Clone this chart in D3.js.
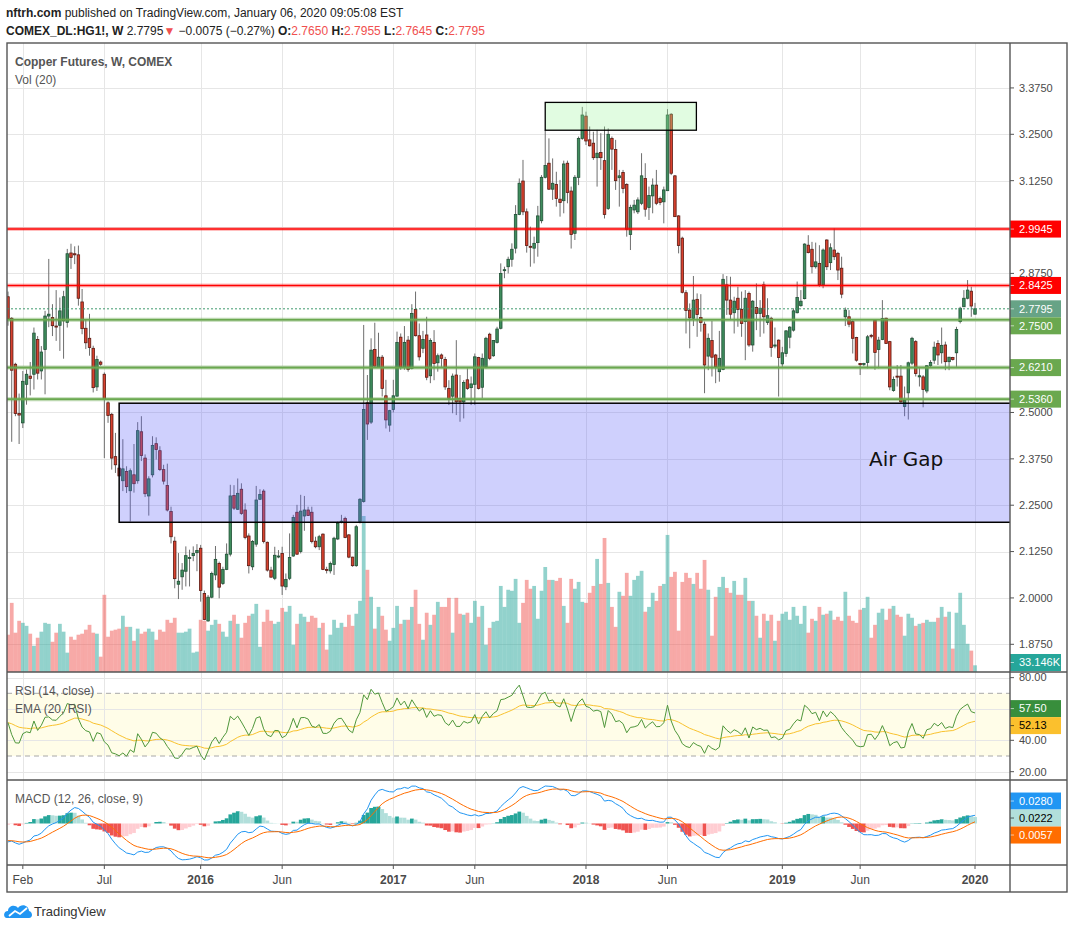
<!DOCTYPE html>
<html>
<head>
<meta charset="utf-8">
<script src="https://cdn.jsdelivr.net/npm/d3@7"></script>
<style>
  body { margin: 0; background: #fff; }
  text { font-family: "Liberation Sans", Arial, sans-serif; }
</style>
</head>
<body>
<svg id="chart" width="1074" height="929"></svg>
<script>
// weekly bars, first bar is the week of 2015-01-05
var startDate = "2015-01-05";

var opens = [
  2.812,2.754,2.630,2.497,2.472,2.576,2.598,2.603,2.697,2.612,
  2.670,2.760,2.756,2.733,2.735,2.747,2.743,2.930,2.928,2.925,
  2.798,2.727,2.700,2.673,2.569,2.636,2.603,2.526,2.495,2.381,
  2.350,2.316,2.341,2.289,2.332,2.316,2.448,2.377,2.275,2.332,
  2.416,2.397,2.346,2.303,2.233,2.153,2.037,2.057,2.072,2.108,
  2.114,2.122,2.134,2.012,1.938,2.002,2.062,2.093,2.039,2.077,
  2.118,2.276,2.239,2.293,2.237,2.167,2.084,2.145,2.266,2.288,
  2.150,2.075,2.053,2.112,2.120,2.030,2.053,2.113,2.231,2.125,
  2.221,2.237,2.231,2.153,2.138,2.172,2.077,2.073,2.090,2.159,
  2.204,2.214,2.170,2.110,2.087,2.206,2.260,2.526,2.474,2.670,
  2.622,2.649,2.545,2.466,2.508,2.544,2.703,2.622,2.695,2.619,
  2.778,2.707,2.673,2.709,2.599,2.689,2.634,2.655,2.643,2.565,
  2.544,2.601,2.538,2.529,2.588,2.567,2.576,2.648,2.568,2.623,
  2.711,2.653,2.689,2.727,2.883,2.893,2.913,2.943,3.034,3.124,
  3.041,2.948,2.943,2.958,3.017,3.134,3.172,3.102,3.115,3.075,
  3.071,3.172,3.097,2.983,3.134,3.239,3.299,3.235,3.226,3.187,
  3.201,3.179,3.050,3.239,3.209,3.133,3.147,3.115,2.980,3.046,
  3.041,3.064,3.131,3.053,3.084,3.113,3.077,3.068,3.098,3.304,
  3.138,3.030,2.970,2.823,2.776,2.754,2.805,2.756,2.738,2.652,
  2.694,2.655,2.610,2.616,2.844,2.803,2.769,2.808,2.778,2.745,
  2.821,2.682,2.783,2.767,2.844,2.743,2.754,2.679,2.695,2.631,
  2.659,2.703,2.722,2.769,2.788,2.807,2.951,2.940,2.893,2.902,
  2.844,2.965,2.904,2.938,2.929,2.889,2.758,2.758,2.745,2.702,
  2.632,2.630,2.635,2.708,2.749,2.670,2.697,2.754,2.691,2.559,
  2.598,2.598,2.516,2.553,2.633,2.691,2.596,2.596,2.558,2.626,
  2.641,2.686,2.661,2.682,2.637,2.648,2.661,2.745,2.785,2.808,
  2.827,2.765
];
var highs = [
  2.826,2.757,2.634,2.551,2.612,2.616,2.636,2.729,2.706,2.679,
  2.774,2.914,2.792,2.830,2.810,2.828,2.941,2.955,2.948,2.950,
  2.833,2.750,2.766,2.680,2.653,2.640,2.608,2.530,2.499,2.445,
  2.360,2.428,2.355,2.349,2.415,2.474,2.490,2.387,2.328,2.436,
  2.433,2.409,2.359,2.362,2.246,2.165,2.121,2.094,2.139,2.130,
  2.139,2.145,2.143,2.020,2.008,2.071,2.140,2.098,2.084,2.147,
  2.305,2.304,2.322,2.309,2.255,2.174,2.156,2.302,2.293,2.293,
  2.152,2.084,2.138,2.129,2.138,2.066,2.174,2.224,2.251,2.278,
  2.275,2.246,2.246,2.165,2.170,2.174,2.084,2.098,2.165,2.206,
  2.224,2.219,2.172,2.111,2.197,2.269,2.736,2.601,2.700,2.742,
  2.715,2.655,2.588,2.507,2.588,2.718,2.713,2.733,2.706,2.792,
  2.826,2.740,2.720,2.758,2.700,2.722,2.659,2.659,2.650,2.587,
  2.605,2.695,2.601,2.587,2.619,2.597,2.659,2.650,2.659,2.704,
  2.715,2.695,2.731,2.902,2.893,2.920,2.956,3.059,3.131,3.181,
  3.050,3.001,2.974,3.057,3.140,3.262,3.239,3.185,3.149,3.127,
  3.179,3.179,3.109,3.140,3.244,3.324,3.311,3.271,3.257,3.262,
  3.253,3.271,3.266,3.244,3.235,3.154,3.154,3.118,3.060,3.073,
  3.080,3.199,3.172,3.109,3.131,3.154,3.082,3.109,3.318,3.307,
  3.140,3.032,2.974,2.830,2.794,2.868,2.821,2.819,2.745,2.713,
  2.747,2.658,2.720,2.873,2.868,2.866,2.812,2.839,2.826,2.830,
  2.826,2.803,2.848,2.803,2.853,2.808,2.758,2.729,2.697,2.677,
  2.722,2.733,2.781,2.853,2.830,2.956,2.978,2.960,2.958,2.951,
  2.942,2.967,2.956,2.996,2.933,2.920,2.783,2.776,2.749,2.704,
  2.633,2.634,2.709,2.712,2.752,2.704,2.803,2.756,2.693,2.597,
  2.628,2.628,2.570,2.637,2.704,2.695,2.623,2.601,2.628,2.641,
  2.691,2.695,2.729,2.691,2.650,2.650,2.731,2.785,2.830,2.857,
  2.839,2.7955
];
var lows = [
  2.734,2.421,2.490,2.415,2.458,2.521,2.546,2.562,2.589,2.589,
  2.549,2.730,2.706,2.693,2.666,2.645,2.729,2.887,2.900,2.788,
  2.711,2.671,2.653,2.554,2.558,2.626,2.377,2.472,2.346,2.337,
  2.328,2.288,2.283,2.206,2.284,2.308,2.369,2.272,2.222,2.325,
  2.373,2.342,2.306,2.233,2.147,2.026,1.997,2.022,2.031,2.031,
  2.099,2.072,1.990,1.940,1.936,1.999,2.048,1.999,2.035,2.075,
  2.112,2.237,2.237,2.224,2.158,2.066,2.075,2.138,2.264,2.147,
  2.071,2.055,2.048,2.107,2.008,2.021,2.048,2.111,2.116,2.120,
  2.181,2.221,2.147,2.134,2.129,2.075,2.066,2.066,2.062,2.156,
  2.201,2.161,2.107,2.084,2.084,2.201,2.257,2.426,2.469,2.624,
  2.622,2.543,2.457,2.448,2.500,2.543,2.615,2.615,2.610,2.616,
  2.705,2.640,2.660,2.587,2.579,2.587,2.610,2.623,2.561,2.520,
  2.498,2.493,2.475,2.484,2.561,2.520,2.520,2.562,2.538,2.619,
  2.641,2.650,2.686,2.724,2.862,2.875,2.893,2.929,3.032,3.032,
  2.931,2.893,2.902,2.920,3.010,3.131,3.100,3.073,3.055,3.028,
  3.037,3.064,2.942,2.965,3.113,3.235,3.221,3.217,3.181,3.109,
  3.154,3.023,3.046,3.154,3.100,3.055,3.091,2.974,2.938,3.037,
  3.035,3.059,3.028,3.019,3.037,3.059,3.059,3.010,3.098,3.140,
  3.028,2.929,2.821,2.713,2.673,2.733,2.704,2.718,2.552,2.614,
  2.597,2.579,2.583,2.614,2.763,2.749,2.713,2.731,2.704,2.641,
  2.677,2.664,2.722,2.704,2.713,2.736,2.650,2.673,2.543,2.623,
  2.650,2.673,2.718,2.767,2.785,2.805,2.929,2.875,2.888,2.839,
  2.835,2.884,2.884,2.911,2.857,2.808,2.733,2.730,2.659,2.637,
  2.601,2.625,2.619,2.700,2.615,2.619,2.695,2.685,2.560,2.556,
  2.570,2.526,2.490,2.481,2.628,2.597,2.570,2.514,2.552,2.623,
  2.631,2.628,2.632,2.614,2.614,2.640,2.623,2.740,2.785,2.805,
  2.758,2.7645
];
var closes = [
  2.752,2.614,2.497,2.493,2.584,2.603,2.592,2.714,2.606,2.663,
  2.760,2.765,2.734,2.731,2.774,2.812,2.928,2.918,2.925,2.808,
  2.726,2.688,2.675,2.567,2.643,2.630,2.535,2.492,2.377,2.359,
  2.329,2.348,2.300,2.343,2.308,2.451,2.384,2.281,2.321,2.411,
  2.400,2.346,2.315,2.237,2.165,2.052,2.045,2.075,2.114,2.109,
  2.120,2.128,2.020,1.942,2.002,2.066,2.104,2.029,2.077,2.118,
  2.275,2.242,2.282,2.228,2.163,2.087,2.152,2.264,2.279,2.152,
  2.075,2.056,2.115,2.113,2.032,2.050,2.109,2.217,2.118,2.234,
  2.237,2.222,2.152,2.138,2.165,2.077,2.075,2.093,2.161,2.201,
  2.207,2.163,2.110,2.087,2.192,2.266,2.508,2.469,2.668,2.625,
  2.649,2.565,2.480,2.505,2.545,2.689,2.622,2.689,2.616,2.767,
  2.707,2.650,2.697,2.595,2.694,2.632,2.653,2.646,2.569,2.538,
  2.598,2.529,2.529,2.581,2.565,2.577,2.650,2.565,2.646,2.700,
  2.646,2.694,2.725,2.875,2.885,2.913,2.940,3.034,3.118,3.041,
  2.950,2.946,2.956,3.030,3.134,3.166,3.102,3.118,3.077,3.066,
  3.170,3.093,2.980,3.134,3.239,3.302,3.232,3.219,3.187,3.199,
  3.187,3.034,3.250,3.210,3.125,3.138,3.104,2.994,3.053,3.059,
  3.073,3.138,3.048,3.085,3.113,3.064,3.066,3.100,3.302,3.145,
  3.028,2.950,2.824,2.775,2.755,2.803,2.764,2.743,2.628,2.700,
  2.649,2.623,2.646,2.859,2.803,2.765,2.800,2.778,2.740,2.808,
  2.682,2.800,2.767,2.781,2.758,2.761,2.675,2.682,2.648,2.661,
  2.720,2.730,2.774,2.810,2.800,2.954,2.931,2.893,2.906,2.844,
  2.938,2.893,2.944,2.920,2.884,2.819,2.776,2.738,2.700,2.641,
  2.629,2.632,2.704,2.707,2.662,2.695,2.753,2.686,2.569,2.589,
  2.596,2.529,2.533,2.634,2.700,2.605,2.599,2.562,2.626,2.635,
  2.676,2.655,2.681,2.637,2.649,2.643,2.724,2.781,2.808,2.830,
  2.787,2.7795
];
// volume in thousands of contracts
var volumes = [
  185,343,195,254,244,229,190,130,170,200,
  244,239,150,195,239,200,96,175,160,185,
  190,210,234,195,190,76,383,175,205,210,
  215,279,224,224,155,215,190,200,215,200,
  160,210,200,259,244,269,195,195,200,215,
  96,101,259,254,205,234,259,239,200,175,
  254,284,239,170,244,279,289,338,125,249,
  309,254,239,249,318,299,328,135,239,289,
  274,249,279,269,219,244,111,185,259,219,
  244,224,284,229,289,353,774,507,373,215,
  323,279,210,155,219,328,239,259,259,323,
  408,239,160,294,234,284,348,323,323,368,
  195,368,289,284,294,244,353,274,328,135,
  219,249,254,427,323,408,403,462,244,343,
  457,413,427,264,403,521,457,457,452,467,
  328,244,462,413,447,348,343,393,427,561,
  437,665,442,323,224,398,378,492,378,457,
  477,502,299,323,393,353,427,437,680,472,
  497,205,447,492,467,437,492,413,556,408,
  180,373,422,472,417,393,452,383,383,467,
  353,353,279,170,289,254,284,155,254,289,
  299,259,323,279,239,328,195,264,254,323,
  284,289,304,259,274,254,398,279,254,244,
  309,318,373,170,234,294,314,259,314,328,
  284,274,180,289,269,229,239,244,259,249,
  249,269,323,274,299,116,294,393,234,140,
  106,33.146
];

var tickDates = ["2015-02-02","2015-07-06","2016-01-04","2016-06-06","2017-01-02","2017-06-05",
                 "2018-01-01","2018-06-04","2019-01-07","2019-06-03","2020-01-06"];
var tickText  = ["Feb","Jul","2016","Jun","2017","Jun","2018","Jun","2019","Jun","2020"];
var priceTicks = [1.875,2.0,2.125,2.25,2.375,2.5,2.625,2.75,2.875,3.0,3.125,3.25,3.375];
var rsiTicks = [20,40,60,80];

var redLevels = [2.9945, 2.8425];
var greenLevels = [2.75, 2.621, 2.536];
var lastPrice = 2.7795;

// drawn boxes: [first bar, price top, price bottom], top box also has a last bar
var airGapBox = [30, 2.525, 2.204];
var topBox = [145, 185.8, 3.336, 3.261];
var airGapLabel = ["Air Gap", 232.4, 2.356];

// indicator values printed in the reference's scale tags
var rsiTags = [57.50, 52.13];
var macdTags = [0.0280, 0.0222, 0.0057];
var volTag = "33.146K";

var svg = d3.select("#chart");
var n = closes.length;
var L = 7, R = 1010, AR = 1067, T = 43;
var mainB = 672, rsiB = 780, macdB = 865, timeB = 892;

var parse = d3.utcParse("%Y-%m-%d");
var t0 = parse(startDate);
function weekIndex(s) { return Math.round((parse(s) - t0) / (7 * 864e5)); }

var x = d3.scaleLinear().domain([0, n - 1]).range([8, 975]);
var step = x(1) - x(0);
var y = d3.scaleLinear().domain([1.875, 3.25]).range([644.3, 134.3]);
var volY = d3.scaleLinear().domain([0, d3.max(volumes)]).range([mainB, mainB - 156]);
var rsiY = d3.scaleLinear().domain([30, 70]).range([756, 693.3]);

// ---- indicators
function ema(values, len) {
  var k = 2 / (len + 1), prev = d3.mean(values.slice(0, len)), out = [];
  values.forEach(function (v, i) {
    if (i > 0) prev = v * k + prev * (1 - k);
    out.push(prev);
  });
  return out;
}
var gains = [], losses = [];
for (var i = 1; i < n; i++) {
  var d = closes[i] - closes[i - 1];
  gains.push(Math.max(d, 0)); losses.push(Math.max(-d, 0));
}
var ag = d3.mean(gains.slice(0, 14)), al = d3.mean(losses.slice(0, 14));
var rsi = [100 - 100 / (1 + ag / al)];
for (i = 1; i < n; i++) {
  ag = (ag * 13 + gains[i - 1]) / 14;
  al = (al * 13 + losses[i - 1]) / 14;
  rsi.push(al === 0 ? 100 : 100 - 100 / (1 + ag / al));
}
var rsiEma = ema(rsi, 20);

var e12 = ema(closes, 12), e26 = ema(closes, 26);
var macd = e12.map(function (v, i) { return v - e26[i]; });
var signal = ema(macd, 9);
var hist = macd.map(function (v, i) { return v - signal[i]; });
var mExt = d3.extent(macd.concat(signal, hist));
var macdY = d3.scaleLinear().domain(mExt).range([860, 786]);

// ---- clip paths
var defs = svg.append("defs");
function clip(id, y0, y1) {
  defs.append("clipPath").attr("id", id).append("rect")
    .attr("x", L).attr("y", y0).attr("width", R - L).attr("height", y1 - y0);
}
clip("cMain", T, mainB); clip("cRsi", mainB, rsiB); clip("cMacd", rsiB, macdB);

// ---- rsi band
svg.append("rect").attr("x", L).attr("width", R - L)
  .attr("y", rsiY(70)).attr("height", rsiY(30) - rsiY(70)).attr("fill", "#fffde8");

// ---- grid
var grid = svg.append("g").attr("stroke", "#e6e6e6").attr("stroke-width", 1);
tickDates.forEach(function (s) {
  var gx = Math.round(x(weekIndex(s))) + 0.5;
  grid.append("line").attr("x1", gx).attr("x2", gx).attr("y1", T).attr("y2", macdB);
});
priceTicks.forEach(function (p) {
  var gy = Math.round(y(p)) + 0.5;
  if (gy > T && gy < mainB) grid.append("line").attr("x1", L).attr("x2", R).attr("y1", gy).attr("y2", gy);
});
rsiTicks.forEach(function (v) {
  var gy = Math.round(rsiY(v)) + 0.5;
  grid.append("line").attr("x1", L).attr("x2", R).attr("y1", gy).attr("y2", gy);
});
[30, 70].forEach(function (v) {
  svg.append("line").attr("x1", L).attr("x2", R).attr("y1", rsiY(v)).attr("y2", rsiY(v))
    .attr("stroke", "#a8a8a8").attr("stroke-dasharray", "5,4");
});

// ---- main pane
var main = svg.append("g").attr("clip-path", "url(#cMain)");

main.append("g").selectAll("rect").data(volumes).enter().append("rect")
  .attr("x", function (v, i) { return x(i) - step / 2; })
  .attr("width", step + 0.05)
  .attr("y", function (v) { return volY(v); })
  .attr("height", function (v) { return mainB - volY(v); })
  .attr("fill", function (v, i) { return closes[i] >= opens[i] ? "rgba(38,166,154,0.5)" : "rgba(239,83,80,0.5)"; });

var candle = main.append("g").selectAll("g").data(d3.range(n)).enter().append("g");
candle.append("line")
  .attr("x1", function (i) { return x(i); }).attr("x2", function (i) { return x(i); })
  .attr("y1", function (i) { return y(highs[i]); }).attr("y2", function (i) { return y(lows[i]); })
  .attr("stroke", "#6e6e6e").attr("stroke-width", 1);
var bw = 2.5;
candle.append("rect")
  .attr("x", function (i) { return x(i) - bw / 2; })
  .attr("width", bw)
  .attr("y", function (i) { return y(Math.max(opens[i], closes[i])); })
  .attr("height", function (i) { return Math.max(1, Math.abs(y(opens[i]) - y(closes[i]))); })
  .attr("fill", function (i) { return closes[i] >= opens[i] ? "#3f8d5d" : "#d8412e"; })
  .attr("stroke", function (i) { return closes[i] >= opens[i] ? "#1f4f35" : "#5a1a12"; })
  .attr("stroke-width", 0.8);

// boxes
main.append("rect")
  .attr("x", x(airGapBox[0])).attr("width", R + 10 - x(airGapBox[0]))
  .attr("y", y(airGapBox[1])).attr("height", y(airGapBox[2]) - y(airGapBox[1]))
  .attr("fill", "rgba(95,98,250,0.3)").attr("stroke", "#000").attr("stroke-width", 1.5);
main.append("rect")
  .attr("x", x(topBox[0])).attr("width", x(topBox[1]) - x(topBox[0]))
  .attr("y", y(topBox[2])).attr("height", y(topBox[3]) - y(topBox[2]))
  .attr("fill", "rgba(155,245,155,0.3)").attr("stroke", "#000").attr("stroke-width", 1.3);
main.append("text").attr("x", x(airGapLabel[1])).attr("y", y(airGapLabel[2]))
  .attr("font-size", 20).attr("fill", "#111")
  .style("font-family", "'DejaVu Sans'").text(airGapLabel[0]);

// level lines
function level(p, col, halo) {
  main.append("line").attr("x1", L).attr("x2", R).attr("y1", y(p)).attr("y2", y(p))
    .attr("stroke", halo).attr("stroke-width", 4);
  main.append("line").attr("x1", L).attr("x2", R).attr("y1", y(p)).attr("y2", y(p))
    .attr("stroke", col).attr("stroke-width", 1.6);
}
redLevels.forEach(function (p) { level(p, "#ff0000", "rgba(255,0,0,0.25)"); });
greenLevels.forEach(function (p) { level(p, "#6aa84f", "rgba(106,168,79,0.45)"); });
main.append("line").attr("x1", L).attr("x2", R).attr("y1", y(lastPrice)).attr("y2", y(lastPrice))
  .attr("stroke", "#3f9a6e").attr("stroke-width", 1).attr("stroke-dasharray", "2,2");

// titles
svg.append("text").attr("x", 15).attr("y", 66).attr("font-size", 12).attr("font-weight", "bold")
  .attr("fill", "#555").text("Copper Futures, W, COMEX");
svg.append("text").attr("x", 15).attr("y", 84).attr("font-size", 12).attr("fill", "#555").text("Vol (20)");

// ---- RSI pane
var rp = svg.append("g").attr("clip-path", "url(#cRsi)");
var rsiLine = d3.line().x(function (v, i) { return x(i); }).y(function (v) { return rsiY(v); });
rp.append("path").attr("d", rsiLine(rsiEma)).attr("fill", "none").attr("stroke", "#f9c22e").attr("stroke-width", 1);
rp.append("path").attr("d", rsiLine(rsi)).attr("fill", "none").attr("stroke", "#4f973b").attr("stroke-width", 1);
svg.append("text").attr("x", 15).attr("y", 695).attr("font-size", 12).attr("fill", "#555").text("RSI (14, close)");
svg.append("text").attr("x", 15).attr("y", 713).attr("font-size", 12).attr("fill", "#555").text("EMA (20, RSI)");

// ---- MACD pane
var mp = svg.append("g").attr("clip-path", "url(#cMacd)");
mp.append("g").selectAll("rect").data(hist).enter().append("rect")
  .attr("x", function (v, i) { return x(i) - step / 2; })
  .attr("width", step + 0.05)
  .attr("y", function (v) { return Math.min(macdY(v), macdY(0)); })
  .attr("height", function (v) { return Math.abs(macdY(v) - macdY(0)); })
  .attr("fill", function (v, i) {
    var prev = i > 0 ? hist[i - 1] : v;
    if (v >= 0) return v >= prev ? "#26a69a" : "#b2dfdb";
    return v >= prev ? "#ffcdd2" : "#ef5350";
  });
var mLine = d3.line().x(function (v, i) { return x(i); }).y(function (v) { return macdY(v); });
mp.append("path").attr("d", mLine(macd)).attr("fill", "none").attr("stroke", "#2196f3").attr("stroke-width", 1);
mp.append("path").attr("d", mLine(signal)).attr("fill", "none").attr("stroke", "#ff6d00").attr("stroke-width", 1);
svg.append("text").attr("x", 15).attr("y", 803).attr("font-size", 12).attr("fill", "#555").text("MACD (12, 26, close, 9)");

// ---- scale tags: work out their positions first
var bh = 17;
var ptags = redLevels.map(function (p) { return { y: y(p), t: p.toFixed(4), bg: "#ff0000", fg: "#fff" }; })
  .concat(greenLevels.map(function (p) { return { y: y(p), t: p.toFixed(4), bg: "#6aa84f", fg: "#fff" }; }))
  .concat([{ y: y(lastPrice), t: lastPrice.toFixed(4), bg: "#67a386", fg: "#fff" }]);
ptags.sort(function (a, b) { return a.y - b.y; });
ptags.forEach(function (d, k) {
  d.cy = d.y;
  if (k > 0 && d.cy < ptags[k - 1].cy + bh) d.cy = ptags[k - 1].cy + bh;
});
var vtag = { cy: Math.min(volY(volumes[n - 1]), mainB - bh / 2 - 1), t: volTag, bg: "#26a69a", fg: "#fff" };

function spread(items) {
  items.sort(function (a, b) { return a.y - b.y; });
  var m = d3.mean(items, function (d) { return d.y; });
  items.forEach(function (d, k) { d.cy = m + (k - (items.length - 1) / 2) * bh; });
  return items;
}
var rtags = spread([
  { y: rsiY(rsiTags[0]), t: rsiTags[0].toFixed(2), bg: "#388e3c", fg: "#fff" },
  { y: rsiY(rsiTags[1]), t: rsiTags[1].toFixed(2), bg: "#fbc02d", fg: "#000" }
]);
var mtags = spread([
  { y: macdY(macdTags[0]) - 0.1, t: macdTags[0].toFixed(4), bg: "#2196f3", fg: "#fff" },
  { y: macdY(macdTags[1]), t: macdTags[1].toFixed(4), bg: "#b2dfdb", fg: "#000" },
  { y: macdY(macdTags[2]), t: macdTags[2].toFixed(4), bg: "#ff6d00", fg: "#fff" }
]);
var allTags = ptags.concat([vtag], rtags, mtags);
function hidden(ty) {
  return allTags.some(function (d) { return Math.abs(d.cy - ty) < bh / 2 + 2; });
}

// ---- axis labels (those under a tag are covered, as in the reference)
var ax = svg.append("g").attr("font-size", 11).attr("fill", "#4a4a4a");
function axisLabel(ty, txt) {
  ax.append("line").attr("x1", R).attr("x2", R + 4).attr("y1", ty).attr("y2", ty).attr("stroke", "#555");
  if (!hidden(ty)) ax.append("text").attr("x", 1019).attr("y", ty).attr("dy", "0.35em").text(txt);
}
priceTicks.forEach(function (p) {
  var ty = y(p);
  if (ty > T + 6 && ty < mainB - 6) axisLabel(ty, p.toFixed(4));
});
rsiTicks.forEach(function (v) { axisLabel(rsiY(v), v.toFixed(2)); });

function tag(d) {
  svg.append("rect").attr("x", R).attr("y", d.cy - bh / 2).attr("width", 51).attr("height", bh).attr("fill", d.bg);
  svg.append("line").attr("x1", R).attr("x2", R + 4).attr("y1", d.cy).attr("y2", d.cy).attr("stroke", d.fg).attr("opacity", 0.6);
  svg.append("text").attr("x", 1019).attr("y", d.cy).attr("dy", "0.35em").attr("font-size", 11)
    .attr("fill", d.fg).text(d.t);
}
allTags.forEach(tag);

// ---- time axis
tickDates.forEach(function (s, k) {
  var tx = x(weekIndex(s));
  svg.append("line").attr("x1", tx).attr("x2", tx).attr("y1", macdB).attr("y2", macdB + 4).attr("stroke", "#555");
  svg.append("text").attr("x", tx).attr("y", 884).attr("text-anchor", "middle").attr("font-size", 12)
    .attr("fill", "#4a4a4a").attr("font-weight", /^\d/.test(tickText[k]) ? "bold" : "normal").text(tickText[k]);
});

// ---- frame
var fr = svg.append("g").attr("stroke", "#555").attr("stroke-width", 1.4).attr("fill", "none");
fr.append("rect").attr("x", L).attr("y", T).attr("width", AR - L).attr("height", timeB - T);
fr.append("line").attr("x1", R).attr("x2", R).attr("y1", T).attr("y2", timeB);
[mainB, rsiB, macdB].forEach(function (yy) {
  fr.append("line").attr("x1", L).attr("x2", AR).attr("y1", yy).attr("y2", yy);
});

// ---- header
var h1 = svg.append("text").attr("x", 6).attr("y", 17).attr("font-size", 12).attr("fill", "#222");
h1.append("tspan").attr("font-weight", "bold").text("nftrh.com");
h1.append("tspan").text(" published on TradingView.com, January 06, 2020 09:05:08 EST");
var h2 = svg.append("text").attr("x", 6).attr("y", 35).attr("font-size", 12).attr("fill", "#222");
var red = "#f0504f";
h2.append("tspan").attr("font-weight", "bold").text("COMEX_DL:HG1!, W ");
h2.append("tspan").text(" " + closes[n - 1].toFixed(4));
h2.append("tspan").attr("fill", red).text("\u25BC");
h2.append("tspan").text(" \u22120.0075 (\u22120.27%) ");
[["O:", opens[n - 1]], ["H:", highs[n - 1]], ["L:", lows[n - 1]], ["C:", closes[n - 1]]].forEach(function (p, k) {
  h2.append("tspan").attr("font-weight", "bold").text((k ? " " : "") + p[0]);
  h2.append("tspan").attr("fill", red).text(p[1].toFixed(4));
});

// ---- logo
var lg = svg.append("g");
lg.append("path").attr("fill", "#2196f3")
  .attr("d", "M7,918 C3,918 3,911 8,911 C8,906 15,904 18,908 C21,903 29,905 29,911 C33,912 33,918 29,918 Z");
lg.append("polyline").attr("points", "9,916 15,911 20,914 27,908").attr("fill", "none")
  .attr("stroke", "#fff").attr("stroke-width", 1.8);
svg.append("text").attr("x", 34).attr("y", 916).attr("font-size", 13).attr("fill", "#333").text("TradingView");
</script>
</body>
</html>
